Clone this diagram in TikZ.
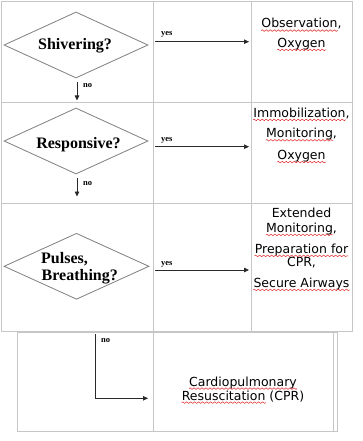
\documentclass[tikz,border=0pt]{standalone}
\usepackage{fontspec}
\setmainfont{Liberation Serif}
\newfontfamily\verd{DejaVu Sans}
\usetikzlibrary{shapes.geometric,arrows.meta,decorations.pathmorphing}
\definecolor{gridc}{HTML}{C6C6C6}
\definecolor{dgray}{HTML}{7F7F7F}
\definecolor{arrc}{HTML}{2A2A2A}
\definecolor{sqred}{HTML}{E02828}
\begin{document}
\begin{tikzpicture}[x=1pt,y=-1pt,
  tline/.style={draw=gridc, line width=0.9pt},
  dia/.style={diamond, draw=dgray, line width=0.8pt, inner sep=0, minimum width=144pt, minimum height=66pt},
  qtext/.style={font=\fontsize{16}{17}\selectfont\bfseries, inner sep=0, anchor=base},
  arr/.style={draw=arrc, line width=0.8pt, -{Triangle[length=5pt,width=4.5pt]}},
  lab/.style={font=\fontsize{8.5}{9}\selectfont\bfseries, inner sep=0, anchor=base west},
  act/.style={font=\verd\fontsize{12.5}{14}\selectfont, inner sep=0, anchor=base},
  sqw/.style={draw=sqred, line width=0.5pt, decorate, decoration={zigzag, segment length=4pt, amplitude=0.8pt}}]
\useasboundingbox[fill=white] (0,0) rectangle (363,441);

% table grid
\draw[tline] (1.5,1.5) rectangle (352.5,331);
\draw[tline] (1.5,102.5) -- (352.5,102.5);
\draw[tline] (1.5,203.5) -- (352.5,203.5);
\draw[tline] (153,1.5) -- (153,331);
\draw[tline] (251,1.5) -- (251,331);
\draw[tline] (17,332) rectangle (337,431);
\draw[tline] (153,332) -- (153,431);
\draw[tline] (333,332) -- (333,431);

% decisions
\node[dia] (d1) at (76,45) {};
\node[dia] (d2) at (76,141) {};
\node[dia, minimum width=145pt] (d3) at (76.5,266.3) {};
\node[qtext] (q1) at (75,49.3) {Shivering?};
\node[qtext] (q2) at (78.5,148.3) {Responsive?};
\node[qtext, anchor=base west] (q3a) at (41,263.3) {Pulses,};
\node[qtext, anchor=base west] (q3b) at (41.5,280) {Breathing?};

% actions
\node[act] (t1a) at (301.5,28) {Observation,};
\node[act] (t1b) at (301.5,47.3) {Oxygen};
\node[act] (t2a) at (301.5,117.3) {Immobilization,};
\node[act] (t2b) at (301.5,137.7) {Monitoring,};
\node[act] (t2c) at (301.5,159.5) {Oxygen};
\node[act] (t3a) at (301.5,217.3) {Extended};
\node[act] (t3b) at (301.5,232.3) {Monitoring,};
\node[act] (t3c) at (301.5,253.3) {Preparation for};
\node[act] (t3d) at (301.5,266.3) {CPR,};
\node[act] (t3e) at (301.5,287.3) {Secure Airways};
\node[act] (t4a) at (243,386) {Cardiopulmonary};
\node[act] (t4b) at (243,400) {Resuscitation (CPR)};

% spelling marks
\draw[sqw] ([yshift=-2.6pt]t1a.base west) -- ([xshift=-4pt,yshift=-2.6pt]t1a.base east);
\draw[sqw] ([yshift=-2.6pt]t1b.base west) -- ([yshift=-2.6pt]t1b.base east);
\draw[sqw] ([yshift=-2.6pt]t2a.base west) -- ([xshift=-4pt,yshift=-2.6pt]t2a.base east);
\draw[sqw] ([yshift=-2.6pt]t2b.base west) -- ([xshift=-4pt,yshift=-2.6pt]t2b.base east);
\draw[sqw] ([yshift=-2.6pt]t2c.base west) -- ([yshift=-2.6pt]t2c.base east);
\draw[sqw] ([yshift=-2.6pt]t3b.base west) -- ([xshift=-4pt,yshift=-2.6pt]t3b.base east);
\draw[sqw] ([yshift=-2.6pt]t3c.base west) -- ([yshift=-2.6pt]t3c.base east);
\draw[sqw] ([yshift=-2.6pt]t3e.base west) -- ([yshift=-2.6pt]t3e.base east);
\draw[sqw] ([yshift=-2.6pt]t4a.base west) -- ([yshift=-2.6pt]t4a.base east);
\draw[sqw] ([yshift=-2.6pt]t4b.base west) -- ([xshift=84pt,yshift=-2.6pt]t4b.base west);

% connectors
\coordinate (y1s) at (155,41.7);  \coordinate (y1e) at (249,41.7);
\coordinate (y2s) at (155,146.7); \coordinate (y2e) at (249,146.7);
\coordinate (y3s) at (155,270);   \coordinate (y3e) at (249,270);
\draw[arr] (y1s) -- (y1e);
\draw[arr] (y2s) -- (y2e);
\draw[arr] (y3s) -- (y3e);
\coordinate (n1e) at (77,100.5);
\coordinate (n2e) at (77,196.5);
\draw[arr] ([xshift=1pt,yshift=-3.7pt]d1.south) -- (n1e);
\draw[arr] ([xshift=1pt,yshift=-4pt]d2.south) -- (n2e);
\coordinate (n3s) at (95.7,334);
\coordinate (n3c) at (95.7,398.3);
\coordinate (n3e) at (148,398.3);
\draw[arr] (n3s) -- (n3c) -- (n3e);

% labels
\node[lab] (l1) at (161,35.7) {yes};
\node[lab] (l2) at (161,141.7) {yes};
\node[lab] (l3) at (161,265) {yes};
\node[lab] (m1) at (83,88) {no};
\node[lab] (m2) at (83,185) {no};
\node[lab] (m3) at (101,342) {no};
\end{tikzpicture}
\end{document}
